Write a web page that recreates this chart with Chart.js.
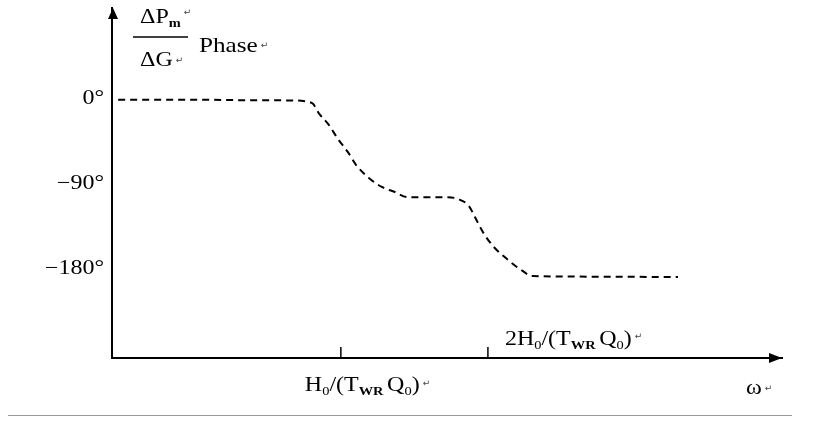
<!DOCTYPE html>
<html><head><meta charset="utf-8">
<script src="https://cdn.jsdelivr.net/npm/chart.js@4"></script>
<style>html,body{margin:0;padding:0;background:#fff}#wrap{width:837px;height:423px;position:relative}</style>
</head><body><div id="wrap"><canvas id="c" width="837" height="423"></canvas></div>
<script>
// ---- data ----
const omega = [0.35, 0.52, 0.65, 0.83, 0.85, 0.877, 0.90, 0.945, 0.986, 1.033, 1.078, 1.141, 1.213, 1.29, 1.365, 1.458, 1.656, 1.736, 1.829, 1.881, 1.953, 2.048, 2.177, 2.326, 2.473, 3.407, 4.9];
const phaseDeg = [-1, -1, -1.5, -2, -3, -5.3, -14.8, -27.5, -42.4, -56.1, -70.9, -83.6, -93.2, -98.5, -103.8, -104, -104, -105.9, -113.3, -125, -140.8, -155.6, -168.4, -180, -187.4, -188, -188.5];
const yTickValues = [0, -90, -180];
const yTickLabels = ['0°', '−90°', '−180°'];
const xTickValues = [1, 2];
const xTickLabels = ['H_0/(T_{WR}~Q_0)', '2H_0/(T_{WR}~Q_0)'];
const xAxisTitle = 'ω';
const yAxisTitleNum = 'ΔP_m';
const yAxisTitleDen = 'ΔG';
const yAxisTitleWord = 'Phase';

const SERIF = '"Liberation Serif","Times New Roman",serif';
const SX = 1.2;

function parseRich(str){
  const parts=[]; let i=0, buf='';
  while(i<str.length){
    const c=str[i];
    if(c==='_'){
      if(buf){parts.push({t:buf});buf='';}
      if(str[i+1]==='{'){const j=str.indexOf('}',i+2);parts.push({t:str.slice(i+2,j),sub:true});i=j+1;}
      else {parts.push({t:str[i+1],sub:true});i+=2;}
    } else if(c==='~'){ if(buf){parts.push({t:buf});buf='';} parts.push({gap:3}); i++; }
    else {buf+=c;i++;}
  }
  if(buf)parts.push({t:buf});
  return parts;
}
function partFont(p,size){
  if(p.sub) return (p.t.length>1||/[a-z]/.test(p.t)?'bold ':'')+Math.round(size*0.62)+'px '+SERIF;
  return size+'px '+SERIF;
}
function richWidth(ctx,parts,size){
  let w=0; for(const p of parts){ if(p.gap){w+=p.gap;continue;} ctx.font=partFont(p,size); w+=ctx.measureText(p.t).width; } return w;
}
function drawRich(ctx,str,x,y,size,opts={}){
  const parts=parseRich(str);
  const w=richWidth(ctx,parts,size)*SX;
  let sx=x; if(opts.align==='right') sx=x-w;
  ctx.save(); ctx.translate(sx,y); ctx.scale(SX,1);
  ctx.fillStyle='#000'; ctx.textBaseline='alphabetic'; ctx.textAlign='left';
  let cx=0;
  for(const p of parts){
    if(p.gap){cx+=p.gap;continue;}
    ctx.font=partFont(p,size);
    ctx.fillText(p.t,cx,p.sub?size*0.2:0);
    cx+=ctx.measureText(p.t).width;
  }
  ctx.restore();
  if(opts.ret){ drawRet(ctx, sx+w+3, y-(opts.retUp||4)); }
  return w;
}
function drawRet(ctx,x,y){
  ctx.save(); ctx.font='9px "DejaVu Sans"'; ctx.fillStyle='#444'; ctx.textBaseline='alphabetic';
  ctx.fillText('↵',x,y); ctx.restore();
}

const annot = {
  id:'annot',
  afterDraw(chart){
    const ctx=chart.ctx, xs=chart.scales.x, ys=chart.scales.y, a=chart.chartArea;
    ctx.save();
    // arrows
    ctx.fillStyle='#000';
    ctx.beginPath(); ctx.moveTo(a.left+1, a.top); ctx.lineTo(a.left-4, a.top+11); ctx.lineTo(a.left+6, a.top+11); ctx.closePath(); ctx.fill();
    ctx.beginPath(); ctx.moveTo(a.right, a.bottom); ctx.lineTo(a.right-13, a.bottom-5); ctx.lineTo(a.right-13, a.bottom+5); ctx.closePath(); ctx.fill();
    // x tick marks (inward)
    ctx.strokeStyle='#000'; ctx.lineWidth=1.5;
    xTickValues.forEach(v=>{const px=xs.getPixelForValue(v); ctx.beginPath(); ctx.moveTo(px,a.bottom); ctx.lineTo(px,a.bottom-11); ctx.stroke();});
    // y tick labels
    yTickValues.forEach((v,i)=>{ drawRich(ctx,yTickLabels[i],a.left-8,ys.getPixelForValue(v)+5,20,{align:'right'}); });
    // x tick labels
    const p1=xs.getPixelForValue(xTickValues[0]);
    drawRich(ctx,xTickLabels[0],p1-36,a.bottom+33,20,{ret:true,retUp:5});
    const p2=xs.getPixelForValue(xTickValues[1]);
    drawRich(ctx,xTickLabels[1],p2+17,a.bottom-13,20,{ret:true,retUp:6});
    // x axis title
    drawRich(ctx,xAxisTitle,a.right-36,a.bottom+36,20,{ret:true,retUp:3});
    // y axis title: fraction + Phase
    drawRich(ctx,yAxisTitleNum,a.left+28,23,20,{ret:true,retUp:8});
    ctx.strokeStyle='#000'; ctx.lineWidth=1.5; ctx.beginPath(); ctx.moveTo(a.left+21,37); ctx.lineTo(a.left+76,37); ctx.stroke();
    drawRich(ctx,yAxisTitleDen,a.left+28,66,20,{ret:true,retUp:3});
    drawRich(ctx,yAxisTitleWord,a.left+87,52,21,{ret:true,retUp:4});
    // page rule at bottom (scan edge)
    ctx.strokeStyle='#9a9a9a'; ctx.lineWidth=1; ctx.beginPath(); ctx.moveTo(8,415.5); ctx.lineTo(792,415.5); ctx.stroke();
    ctx.restore();
  }
};

new Chart(document.getElementById('c').getContext('2d'), {
  type:'line',
  data:{datasets:[{
    data: omega.map((w,i)=>({x:w,y:phaseDeg[i]})),
    borderColor:'#000', borderWidth:2, borderDash:[7,5],
    pointRadius:0, fill:false, cubicInterpolationMode:'monotone'
  }]},
  options:{
    responsive:false, animation:false, events:[],
    plugins:{legend:{display:false}, tooltip:{enabled:false}},
    layout:{padding:{left:112, right:55, top:8, bottom:65}},
    scales:{
      x:{type:'logarithmic', bounds:'data', min:0.34, max:8, ticks:{display:false}, grid:{display:false, drawTicks:false}, border:{display:true, color:'#000', width:2}},
      y:{type:'linear', bounds:'data', min:-274, max:96, ticks:{display:false}, grid:{display:false, drawTicks:false}, border:{display:true, color:'#000', width:2}}
    }
  },
  plugins:[annot]
});
</script>
</body></html>
